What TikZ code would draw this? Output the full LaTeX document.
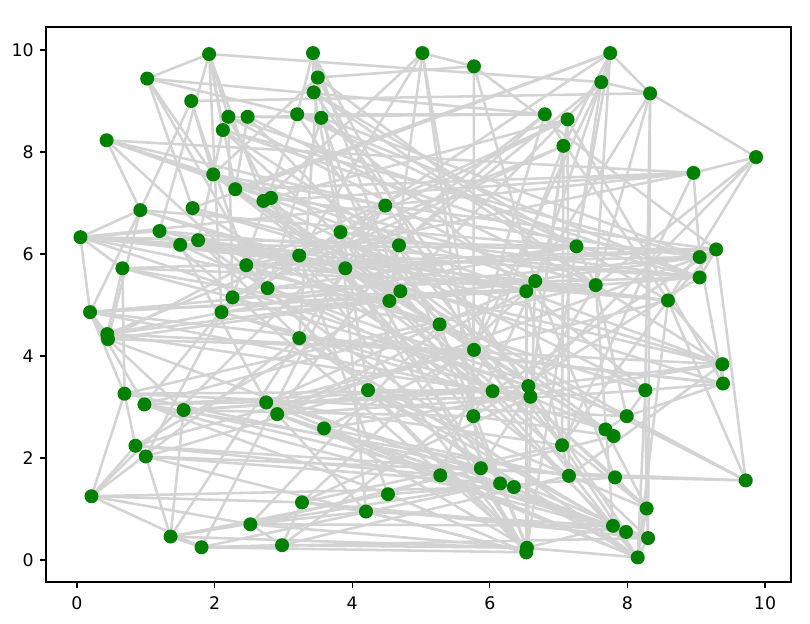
\documentclass[tikz,border=0pt]{standalone}
\usepackage{fontspec}
\setmainfont{DejaVu Sans}
\pgfdeclarelayer{background}
\pgfsetlayers{background,main}
\definecolor{edgegray}{HTML}{D3D3D3}
\definecolor{nodegreen}{HTML}{008000}
\begin{document}
\begin{tikzpicture}[x=51.6pt,y=38.25pt,
  vtx/.style={circle,fill=nodegreen,draw=none,minimum size=10.5pt,inner sep=0pt},
  edge/.style={draw=edgegray,line width=1.9pt},
  axisline/.style={draw=black,line width=1pt},
  ticklabel/.style={font=\fontsize{13}{15}\selectfont,inner sep=0pt}]
\useasboundingbox (-1.1192,-1.2549) rectangle (10.6541,10.9804);
% vertices
\foreach \i/\x/\y in {
1/1.92/9.92, 2/1.02/9.44, 3/1.66/9.00, 4/2.20/8.69, 5/2.48/8.69,
6/2.12/8.43, 7/0.43/8.23, 8/1.98/7.56, 9/2.30/7.27, 10/2.71/7.04,
11/2.82/7.10, 12/0.92/6.86, 13/1.68/6.90, 14/3.20/8.74, 15/3.43/9.94,
16/3.50/9.46, 17/3.44/9.17, 18/3.55/8.67, 19/5.02/9.94, 20/5.77/9.68,
21/4.48/6.95, 22/7.75/9.94, 23/7.62/9.37, 24/8.33/9.15, 25/6.80/8.74,
26/7.13/8.64, 27/7.07/8.12, 28/9.87/7.90, 29/8.96/7.59, 30/0.05/6.33,
31/1.20/6.45, 32/1.50/6.18, 33/1.76/6.27, 34/0.66/5.72, 35/2.46/5.78,
36/2.77/5.33, 37/2.26/5.15, 38/2.10/4.86, 39/0.19/4.86, 40/0.44/4.43,
41/0.45/4.33, 42/0.69/3.26, 43/3.83/6.43, 44/4.68/6.17, 45/3.23/5.97,
46/3.90/5.72, 47/4.70/5.27, 48/4.54/5.08, 49/5.27/4.62, 50/6.66/5.47,
51/6.53/5.27, 52/3.23/4.35, 53/5.77/4.12, 54/4.23/3.33, 55/6.04/3.31,
56/6.56/3.41, 57/6.59/3.20, 58/7.26/6.15, 59/9.29/6.09, 60/9.05/5.94,
61/9.05/5.54, 62/7.54/5.39, 63/8.59/5.09, 64/9.38/3.84, 65/9.39/3.46,
66/8.26/3.33, 67/0.98/3.05, 68/1.55/2.94, 69/2.75/3.09, 70/2.91/2.86,
71/0.85/2.24, 72/1.00/2.03, 73/0.21/1.25, 74/1.36/0.46, 75/1.81/0.25,
76/2.52/0.70, 77/2.98/0.29, 78/3.59/2.58, 79/5.76/2.82, 80/5.87/1.80,
81/5.28/1.66, 82/6.15/1.50, 83/6.35/1.43, 84/3.27/1.13, 85/4.20/0.95,
86/4.52/1.29, 87/6.54/0.24, 88/6.53/0.15, 89/7.99/2.82, 90/7.68/2.56,
91/7.80/2.43, 92/7.05/2.25, 93/7.15/1.65, 94/7.82/1.62, 95/9.72/1.56,
96/8.28/1.01, 97/7.79/0.67, 98/7.98/0.55, 99/8.30/0.43, 100/8.15/0.05}
  {\node[vtx] (n\i) at (\x,\y) {};}
% edges
\begin{pgfonlayer}{background}
\foreach \a/\b in {
1/2, 1/23, 1/6, 1/9, 1/4, 1/10, 1/38, 1/31,
2/25, 2/8, 2/13, 2/14, 2/36,
3/24, 3/12, 3/8, 3/35,
4/5, 4/37, 4/45, 4/50,
5/25, 5/18, 5/9,
6/33, 6/47, 6/58,
7/29, 7/8, 7/11, 7/12, 7/21, 7/44, 7/50, 7/36,
8/16, 8/21, 8/62,
9/29, 9/22,
10/29, 10/53, 10/19,
11/26, 11/60,
12/39, 12/41, 12/45, 12/30,
13/22, 13/51,
14/25, 14/15, 14/37, 14/49,
15/16, 15/17, 15/47, 15/53,
16/52, 16/20, 16/62,
17/43, 17/56,
18/36, 18/48, 18/66,
19/20, 19/45, 19/53,
20/53, 20/59,
21/59, 21/73,
22/23, 22/24, 22/27, 22/38,
23/24, 23/58, 23/44,
24/28, 24/99, 24/62, 24/51, 24/66,
25/46, 25/63,
26/93, 26/35, 26/57,
27/40, 27/81, 27/92,
28/29, 28/62, 28/56,
29/30, 29/92, 29/60, 29/35,
30/31, 30/33, 30/34, 30/39, 30/48, 30/61, 30/45,
31/32, 31/46, 31/64,
32/69, 32/55,
33/52, 33/49,
34/59, 34/37, 34/40, 34/42,
35/41, 35/63,
36/54, 36/58,
37/67, 37/43,
38/72, 38/61,
39/40, 39/42, 39/67, 39/62, 39/65,
40/41, 40/57, 40/58,
41/68, 41/60,
42/73, 42/55, 42/71, 42/89,
43/44, 43/61, 43/85,
44/64, 44/70, 44/48,
45/46, 45/65, 45/86,
46/59, 46/82, 46/75,
47/100, 47/54,
48/97, 48/71,
49/87, 49/91, 49/76,
50/51, 50/94, 50/69,
51/88, 51/84,
52/83, 52/74,
53/96, 53/78,
54/55, 54/98, 54/72,
55/57, 55/59, 55/99,
56/64, 56/67,
57/90, 57/84,
58/62, 58/87,
59/60, 59/61, 59/95, 59/63,
60/65, 60/70,
61/79,
62/89, 62/80,
63/95, 63/64, 63/100,
64/65, 64/78,
65/66, 65/52,
66/89, 66/96,
67/86, 67/93,
68/74, 68/79,
69/70, 69/80,
70/100, 70/85,
71/72, 71/73, 71/81,
72/74, 72/95,
73/84, 73/75, 73/76,
74/75, 74/86,
75/77, 75/82,
76/77, 76/85, 76/91,
77/87, 77/84,
78/98, 78/93,
79/80, 79/91,
80/99,
81/86, 81/97,
82/83, 82/98,
83/100,
84/85,
85/88,
86/88,
87/97,
89/90, 89/95,
90/91, 90/96,
92/93,
94/95, 94/96,
96/99, 96/100,
97/98,
99/100,
88/35, 88/45, 87/36, 100/33, 100/69, 100/54, 87/31, 88/43,
97/70, 98/67, 99/84, 99/81,
30/50, 30/58, 30/63, 30/56,
39/51, 39/60, 39/55,
34/62, 34/49,
31/61, 32/59, 33/63,
12/47, 12/58,
13/64, 13/55,
9/48, 9/53, 10/66,
11/79,
35/60, 35/66,
36/61, 36/89,
37/51, 37/56,
38/90, 38/57,
40/64, 40/50,
41/82, 41/53,
42/62, 42/80,
67/49, 67/57,
68/56, 68/55, 68/83,
69/63, 69/92,
70/51, 70/66,
71/53, 71/94,
72/82, 72/88,
73/83, 73/52,
74/82, 74/87,
75/88, 75/99,
76/100, 76/97,
77/93, 77/55,
78/100, 78/87,
84/98, 84/92,
85/97,
86/94,
8/47, 8/55,
6/44, 6/60,
4/61,
5/53, 5/62,
14/58, 14/61,
16/21, 16/54,
17/63, 17/62,
18/60,
19/48, 19/80,
20/50, 20/79,
21/52, 21/56,
22/58, 22/62,
23/50, 23/53, 23/48,
25/44, 25/53,
26/43, 26/65,
27/57, 27/37,
28/63,
43/90, 43/94,
44/87, 44/92,
45/93,
46/91, 46/88,
47/89,
48/96,
49/95,
50/87, 50/79,
51/93,
52/97,
53/100,
54/96,
56/98,
57/100,
58/61,
62/64, 62/97,
63/92,
64/93, 65/89,
66/100}
  {\draw[edge] (n\a.center) -- (n\b.center);}
\end{pgfonlayer}
% axes
\draw[axisline] (-0.4506,-0.4314) rectangle (10.378,10.451);
\foreach \t in {0,2,4,6,8,10}{
  \draw[axisline] (\t,-0.4314) -- ++(0,-4.6pt);
  \node[ticklabel,anchor=north,yshift=-11pt] (xt\t) at (\t,-0.4314) {\t};
  \draw[axisline] (-0.4506,\t) -- ++(-4.6pt,0);
  \node[ticklabel,anchor=east,xshift=-9pt] (yt\t) at (-0.4506,\t) {\t};
}
\end{tikzpicture}
\end{document}
